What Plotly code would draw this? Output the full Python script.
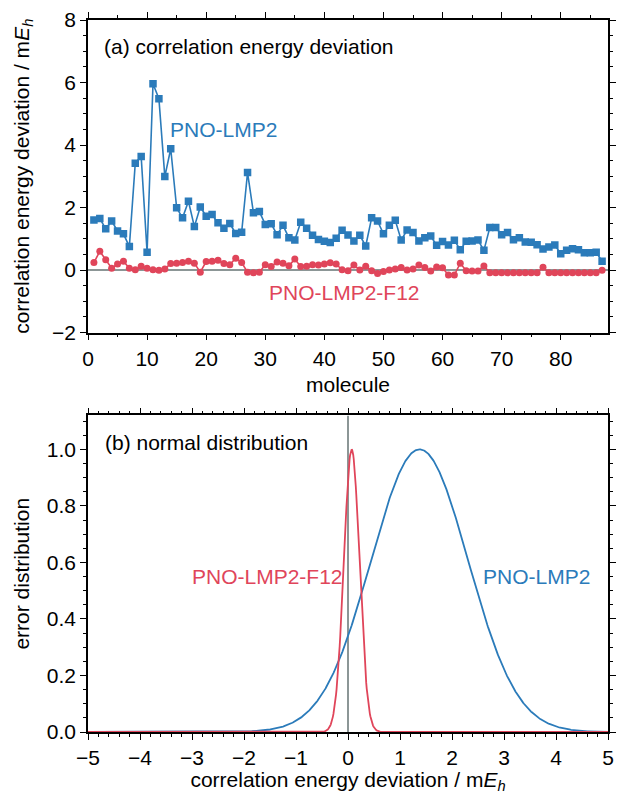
import numpy as np
import plotly.graph_objects as go

molecules = list(range(1, 88))
pno_lmp2 = [1.60, 1.65, 1.32, 1.57, 1.25, 1.16, 0.75, 3.42, 3.63, 0.57,
            5.96, 5.48, 2.99, 3.88, 1.99, 1.67, 2.20, 1.39, 2.02, 1.72,
            1.78, 1.51, 1.34, 1.49, 1.17, 1.21, 3.12, 1.83, 1.87, 1.46,
            1.48, 1.13, 1.43, 1.03, 0.96, 1.53, 1.34, 1.11, 0.98, 0.92,
            0.88, 1.02, 1.27, 1.12, 0.93, 1.11, 0.77, 1.67, 1.57, 1.16,
            1.43, 1.59, 0.96, 1.28, 1.20, 0.93, 1.03, 1.09, 0.79, 0.91,
            0.80, 0.95, 0.65, 0.92, 0.93, 0.96, 0.63, 1.36, 1.36, 1.13,
            1.20, 0.97, 1.03, 0.90, 0.89, 0.81, 0.67, 0.74, 0.80, 0.52,
            0.63, 0.68, 0.65, 0.55, 0.55, 0.57, 0.28]
pno_lmp2_f12 = [0.24, 0.60, 0.33, 0.06, 0.19, 0.28, 0.06, 0.01, 0.12, 0.06,
                0.01, -0.01, 0.03, 0.21, 0.22, 0.24, 0.28, 0.22, -0.07, 0.27,
                0.28, 0.31, 0.21, 0.17, 0.38, 0.24, -0.07, -0.09, -0.07, 0.17,
                0.11, 0.26, 0.22, 0.14, 0.35, 0.11, 0.12, 0.17, 0.16, 0.19,
                0.23, 0.19, 0.01, -0.02, 0.16, 0.00, 0.12, -0.02, -0.11, -0.05,
                0.00, 0.03, 0.08, 0.00, 0.03, 0.16, 0.08, -0.03, 0.10, 0.07,
                -0.16, -0.16, 0.22, -0.02, -0.03, -0.03, 0.13, -0.09, -0.09, -0.09,
                -0.09, -0.09, -0.09, -0.09, -0.09, -0.09, 0.09, -0.09, -0.09, -0.09,
                -0.09, -0.09, -0.09, -0.09, -0.09, -0.09, -0.01]

BLUE = "#2b7bba"
RED = "#e0455a"
GRAY = "#8c9696"
FONT = "Liberation Sans, Arial, Helvetica, sans-serif"
FS = 21

# normal distributions (peak-normalised) from the data
xg = np.linspace(-5, 5, 1001)
def gauss(vals):
    v = np.asarray(vals)
    mu, sd = v.mean(), v.std()
    return np.exp(-(xg - mu) ** 2 / (2 * sd ** 2))

fig = go.Figure()

fig.add_trace(go.Scatter(x=[0, 88], y=[0, 0], mode="lines",
                         line=dict(color=GRAY, width=2), xaxis="x", yaxis="y",
                         hoverinfo="skip", showlegend=False))
fig.add_trace(go.Scatter(x=molecules, y=pno_lmp2, mode="lines+markers",
                         line=dict(color=BLUE, width=1.6),
                         marker=dict(symbol="square", size=7.5, color=BLUE),
                         xaxis="x", yaxis="y", showlegend=False))
fig.add_trace(go.Scatter(x=molecules, y=pno_lmp2_f12, mode="lines+markers",
                         line=dict(color=RED, width=1.6),
                         marker=dict(symbol="circle", size=7, color=RED),
                         xaxis="x", yaxis="y", showlegend=False))

fig.add_trace(go.Scatter(x=[0, 0], y=[0, 1.12], mode="lines",
                         line=dict(color=GRAY, width=2), xaxis="x2", yaxis="y2",
                         hoverinfo="skip", showlegend=False))
fig.add_trace(go.Scatter(x=xg, y=gauss(pno_lmp2), mode="lines",
                         line=dict(color=BLUE, width=1.8),
                         xaxis="x2", yaxis="y2", showlegend=False))
fig.add_trace(go.Scatter(x=xg, y=gauss(pno_lmp2_f12), mode="lines",
                         line=dict(color=RED, width=1.8),
                         xaxis="x2", yaxis="y2", showlegend=False))

axcommon = dict(showline=True, linecolor="black", linewidth=1.5, mirror="ticks",
                ticks="outside", ticklen=6, tickwidth=1.2, tickcolor="black",
                showgrid=False, zeroline=False,
                tickfont=dict(family=FONT, size=FS, color="black"))

fig.update_layout(
    width=623, height=794,
    margin=dict(l=88, r=7, t=20, b=61),
    paper_bgcolor="white", plot_bgcolor="white",
    font=dict(family=FONT, size=FS, color="black"),
    xaxis=dict(domain=[0, 1], anchor="y", range=[0, 88], dtick=10, tick0=0,
               minor=dict(ticks="outside", ticklen=3, dtick=5, tickcolor="black"),
               title=dict(text="molecule", font=dict(family=FONT, size=FS), standoff=9),
               **axcommon),
    yaxis=dict(domain=[0.561, 1], anchor="x", range=[-2, 8], dtick=2, tick0=0,
               minor=dict(ticks="outside", ticklen=3, dtick=0.5, tickcolor="black"),
               title=dict(text="correlation energy deviation / m<i>E<sub>h</sub></i>",
                          font=dict(family=FONT, size=FS), standoff=17),
               **axcommon),
    xaxis2=dict(domain=[0, 1], anchor="y2", range=[-5, 5], dtick=1, tick0=0,
                minor=dict(ticks="outside", ticklen=3, dtick=0.2, tickcolor="black"),
                title=dict(text="correlation energy deviation / m<i>E<sub>h</sub></i>",
                           font=dict(family=FONT, size=FS), standoff=3),
                **axcommon),
    yaxis2=dict(domain=[0, 0.4446], anchor="x2", range=[0, 1.12], dtick=0.2, tick0=0,
                tickformat=".1f",
                minor=dict(ticks="outside", ticklen=3, dtick=0.05, tickcolor="black"),
                title=dict(text="error distribution", font=dict(family=FONT, size=FS),
                           standoff=11),
                **axcommon),
    annotations=[
        dict(text="(a) correlation energy deviation", xref="x", yref="y", x=2.3, y=7.15,
             xanchor="left", yanchor="middle", showarrow=False,
             font=dict(family=FONT, size=FS, color="black")),
        dict(text="PNO-LMP2", xref="x", yref="y", x=13.6, y=4.5,
             xanchor="left", yanchor="middle", showarrow=False,
             font=dict(family=FONT, size=FS, color=BLUE)),
        dict(text="PNO-LMP2-F12", xref="x", yref="y", x=30.3, y=-0.72,
             xanchor="left", yanchor="middle", showarrow=False,
             font=dict(family=FONT, size=FS, color=RED)),
        dict(text="(b) normal distribution", xref="x2", yref="y2", x=-4.72, y=1.025,
             xanchor="left", yanchor="middle", showarrow=False,
             font=dict(family=FONT, size=FS, color="black")),
        dict(text="PNO-LMP2-F12", xref="x2", yref="y2", x=-0.05, y=0.55,
             xanchor="right", yanchor="middle", showarrow=False,
             font=dict(family=FONT, size=FS, color=RED)),
        dict(text="PNO-LMP2", xref="x2", yref="y2", x=2.55, y=0.55,
             xanchor="left", yanchor="middle", showarrow=False,
             font=dict(family=FONT, size=FS, color=BLUE)),
    ],
)

fig.write_html("out.html")
